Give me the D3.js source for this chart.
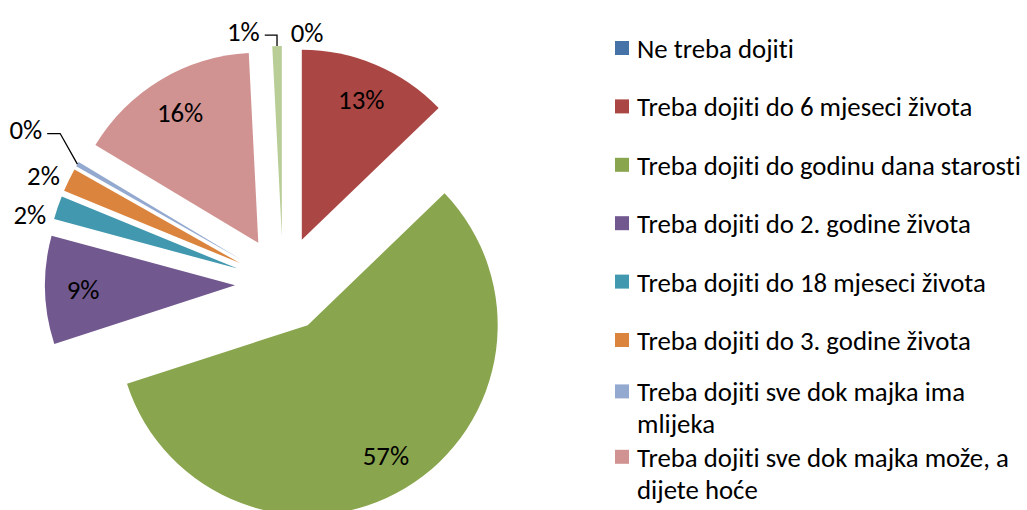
<!DOCTYPE html>
<html>
<head>
<meta charset="utf-8">
<script src="https://cdn.jsdelivr.net/npm/d3@7"></script>
<style>
  html, body { margin: 0; padding: 0; background: #fff; }
  svg { display: block; }
  text { font-family: Carlito, Calibri, Lato, "Open Sans", sans-serif; fill: #000; font-variant-ligatures: none; font-feature-settings: "liga" 0; }
</style>
</head>
<body>
<svg id="chart" width="1027" height="510"></svg>
<script>
// ---- data ----
const categories = [
  "Ne treba dojiti",
  "Treba dojiti do 6 mjeseci života",
  "Treba dojiti do godinu dana starosti",
  "Treba dojiti do 2. godine života",
  "Treba dojiti do 18 mjeseci života",
  "Treba dojiti do 3. godine života",
  "Treba dojiti sve dok majka ima mlijeka",
  "Treba dojiti sve dok majka može, a dijete hoće",
  "Ne znam"
];
const values = [0, 12.8, 57.2, 9.2, 2.0, 2.0, 0.4, 15.6, 0.8];
const colors = ["#4572A7", "#AA4643", "#89A54E", "#71588F", "#4198AF", "#DB843D", "#93A9CF", "#D19392", "#B9CD96"];

// ---- layout ----
const W = 1027, H = 510;
const cx = 283, cy = 284, R = 190, explode = 48;
const insideFrac = 0.8;
const outsideGap = 25;
// nudges for outside labels (index -> [dx, dy])
const outsideNudge = {0: [24, 11], 4: [-4, 15], 5: [-3, 6], 6: [-30, -22], 8: [-33, 10]};
const leaderFor = new Set([6, 8]);
const legendX = 615, legendY0 = 48, legendStep = 58.4, legendLine = 32, swatch = 14, legendTextX = 637, legendMaxW = 388;
const legendShift = {6: -7};
const targetLegendW = 384; // width of the longest single line in the reference

const svg = d3.select("#chart");
const total = d3.sum(values);

// pick font size so the longest legend line matches reference width
const probe = svg.append("text").attr("font-size", 20).text(categories[2]);
const fs = +(20 * targetLegendW / probe.node().getComputedTextLength()).toFixed(2);
probe.remove();

const pie = d3.pie().sort(null).value(d => d)(values);
const arc = d3.arc().innerRadius(0).outerRadius(R);

const g = svg.append("g").attr("transform", `translate(${cx},${cy})`);

function dirOf(a) { return [Math.sin(a), -Math.cos(a)]; }

const slices = g.selectAll("g.slice").data(pie).join("g")
  .attr("class", "slice")
  .attr("transform", d => {
    const m = (d.startAngle + d.endAngle) / 2, [dx, dy] = dirOf(m);
    return `translate(${dx * explode},${dy * explode})`;
  });

slices.append("path")
  .attr("d", arc)
  .attr("fill", (d, i) => colors[i]);

// labels
pie.forEach((d, i) => {
  const m = (d.startAngle + d.endAngle) / 2, [dx, dy] = dirOf(m);
  const ax = cx + dx * explode, ay = cy + dy * explode;
  const pct = Math.round(values[i] / total * 100) + "%";
  const inside = values[i] / total >= 0.05;
  let lx, ly;
  if (inside) {
    lx = ax + dx * R * insideFrac; ly = ay + dy * R * insideFrac;
  } else {
    const nud = outsideNudge[i] || [0, 0];
    lx = ax + dx * (R + outsideGap) + nud[0];
    ly = ay + dy * (R + outsideGap) + nud[1];
  }
  const t = svg.append("text")
    .attr("x", lx).attr("y", ly)
    .attr("text-anchor", "middle")
    .attr("dominant-baseline", "central")
    .attr("font-size", fs)
    .text(pct);
  if (leaderFor.has(i)) {
    const w = t.node().getComputedTextLength();
    const px = ax + dx * R, py = ay + dy * R;
    const sx = lx + w / 2 + 5, sy = ly + 4;
    const ex = Math.min(sx + 13, px);
    svg.append("polyline")
      .attr("points", [[sx, sy], [ex, sy], [px, py]].map(p => p.join(",")).join(" "))
      .attr("fill", "none").attr("stroke", "#000").attr("stroke-width", 1.3);
  }
});

// legend
const legend = svg.append("g");
categories.forEach((name, i) => {
  const y = legendY0 + i * legendStep + (legendShift[i] || 0);
  if (y > H - 8) return;
  legend.append("rect")
    .attr("x", legendX).attr("y", y - swatch / 2)
    .attr("width", swatch).attr("height", swatch)
    .attr("fill", colors[i]);
  const t = legend.append("text")
    .attr("x", legendTextX).attr("y", y)
    .attr("dominant-baseline", "central")
    .attr("font-size", fs);
  // wrap words to legendMaxW
  const words = name.split(" ");
  let line = [], lineNo = 0;
  let ts = t.append("tspan").attr("x", legendTextX).attr("y", y);
  for (const wd of words) {
    line.push(wd);
    ts.text(line.join(" "));
    if (ts.node().getComputedTextLength() > legendMaxW && line.length > 1) {
      line.pop();
      ts.text(line.join(" "));
      line = [wd];
      lineNo++;
      ts = t.append("tspan").attr("x", legendTextX).attr("y", y + lineNo * legendLine).text(wd);
    }
  }
});
</script>
</body>
</html>
